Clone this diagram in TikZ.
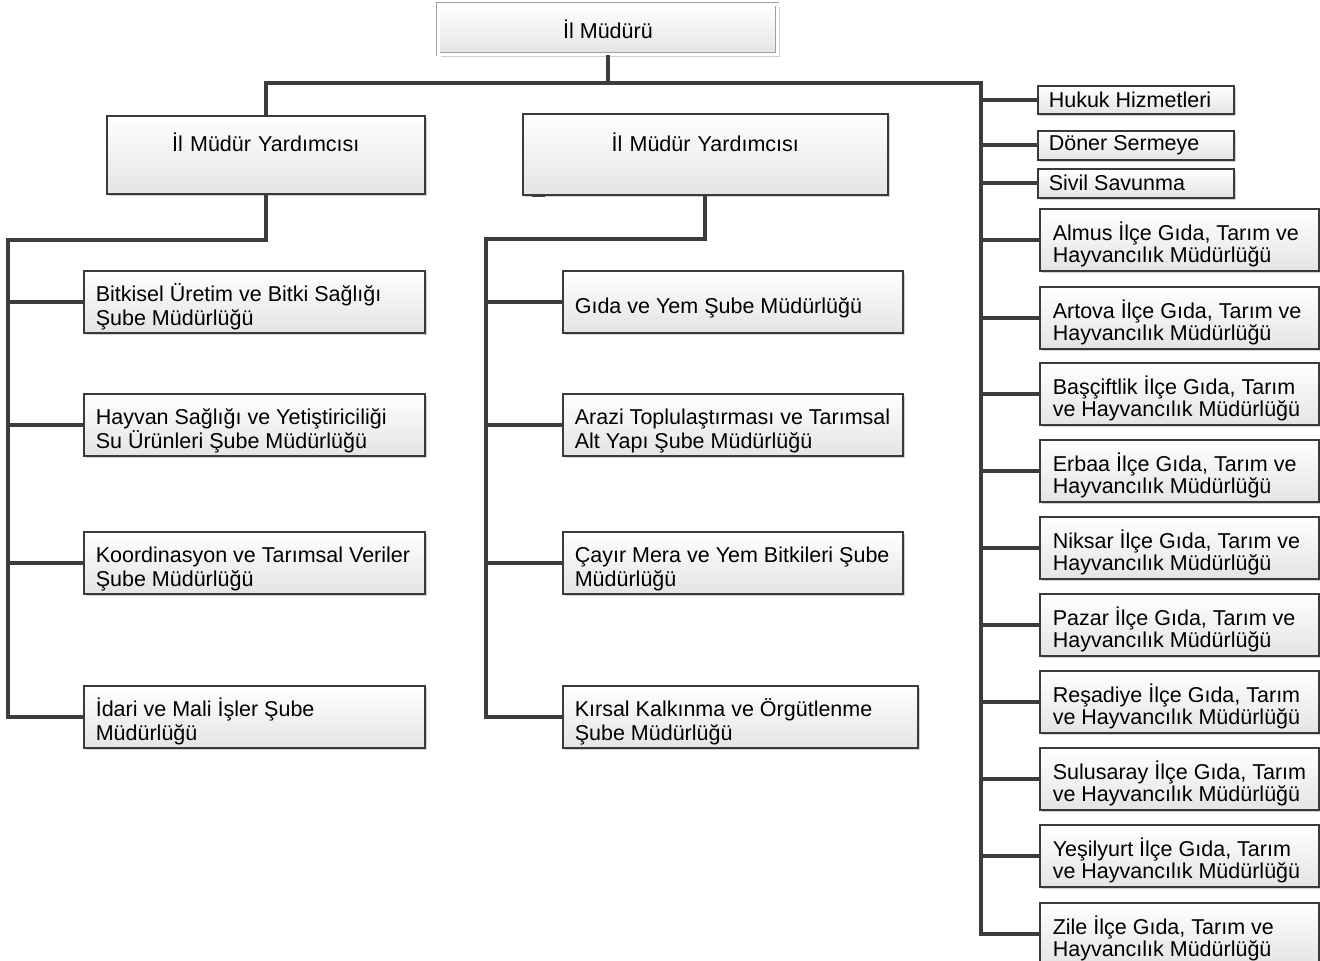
\documentclass[tikz,border=0pt]{standalone}
\usepackage{fontspec}
\setmainfont{Liberation Sans}
\usetikzlibrary{shadows}
\definecolor{lineC}{HTML}{3C3C3C}
\definecolor{boxLine}{HTML}{3A3A3A}
\definecolor{boxBot}{HTML}{E4E4E4}
\newcommand\boxfont{\fontsize{21.5}{24.5}\selectfont}
\newcommand\rboxfont{\fontsize{21.5}{22}\selectfont}
\newcommand\Fl[1]{\mbox{\rule{0pt}{28pt}#1}}
\newcommand\Ln[1]{\mbox{#1}}
\tikzset{
  orgbox/.style={draw=boxLine, line width=1.6pt, top color=white, bottom color=boxBot,
    drop shadow={shadow xshift=2.5pt, shadow yshift=-2.5pt, fill=black, opacity=0.18},
    anchor=north west, inner xsep=12pt, inner ysep=0pt, align=flush left, font=\boxfont},
  rbox/.style={orgbox, font=\rboxfont},
  topbox/.style={draw=gray!75, line width=0.9pt, double=white, double distance=2.2pt,
    top color=white, bottom color=boxBot,
    drop shadow={shadow xshift=2.5pt, shadow yshift=-2.5pt, fill=black, opacity=0.18},
    anchor=north west, inner sep=0pt, align=center, font=\boxfont},
  conn/.style={draw=lineC, line width=3.8pt, line join=miter},
}
\begin{document}
\begin{tikzpicture}[x=1pt,y=-1pt]
\useasboundingbox (0,0) rectangle (1320,961);

% top
\node[topbox, minimum width=339pt, minimum height=50pt] (mud) at (438,4) {İl Müdürü};

% deputies
\node[orgbox, align=center, minimum width=318pt, minimum height=78pt, text width=294pt] (y1) at (106,115) {İl Müdür Yardımcısı\\\mbox{}};
\node[orgbox, align=center, minimum width=365pt, minimum height=81pt, text width=341pt] (y2) at (522,113) {İl Müdür Yardımcısı\\\mbox{}};

% left column
\node[orgbox, minimum width=341pt, minimum height=62pt, text width=317pt] (l1) at (83,270) {\Fl{Bitkisel Üretim ve Bitki Sağlığı}\\\Ln{Şube Müdürlüğü}};
\node[orgbox, minimum width=341pt, minimum height=62pt, text width=317pt] (l2) at (83,393) {\Fl{Hayvan Sağlığı ve Yetiştiriciliği}\\\Ln{Su Ürünleri Şube Müdürlüğü}};
\node[orgbox, minimum width=341pt, minimum height=62pt, text width=317pt] (l3) at (83,531) {\Fl{Koordinasyon ve Tarımsal Veriler}\\\Ln{Şube Müdürlüğü}};
\node[orgbox, minimum width=341pt, minimum height=62pt, text width=317pt] (l4) at (83,685) {\Fl{İdari ve Mali İşler Şube}\\\Ln{Müdürlüğü}};

% middle column
\node[orgbox, minimum width=340pt, minimum height=62pt, text width=316pt] (m1) at (562,270) {\Fl{Gıda ve Yem Şube Müdürlüğü}};
\node[orgbox, minimum width=340pt, minimum height=62pt, text width=316pt] (m2) at (562,393) {\Fl{Arazi Toplulaştırması ve Tarımsal}\\\Ln{Alt Yapı Şube Müdürlüğü}};
\node[orgbox, minimum width=340pt, minimum height=62pt, text width=316pt] (m3) at (562,531) {\Fl{Çayır Mera ve Yem Bitkileri Şube}\\\Ln{Müdürlüğü}};
\node[orgbox, minimum width=355pt, minimum height=62pt, text width=331pt] (m4) at (562,685) {\Fl{Kırsal Kalkınma ve Örgütlenme}\\\Ln{Şube Müdürlüğü}};

% right column small
\node[rbox, inner xsep=11pt, minimum width=196pt, minimum height=28pt, text width=174pt] (r1) at (1037,85) {Hukuk Hizmetleri};
\node[rbox, inner xsep=11pt, minimum width=196pt, minimum height=29pt, text width=174pt] (r2) at (1037,130) {Döner Sermeye};
\node[rbox, inner xsep=11pt, minimum width=196pt, minimum height=29pt, text width=174pt] (r3) at (1037,168) {Sivil Savunma};

% right column districts
\node[rbox, inner xsep=13pt, minimum width=279pt, minimum height=62pt, text width=253pt] (d1) at (1039,208) {\Fl{Almus İlçe Gıda, Tarım ve}\\\Ln{Hayvancılık Müdürlüğü}};
\node[rbox, inner xsep=13pt, minimum width=279pt, minimum height=62pt, text width=253pt] (d2) at (1039,286) {\Fl{Artova İlçe Gıda, Tarım ve}\\\Ln{Hayvancılık Müdürlüğü}};
\node[rbox, inner xsep=13pt, minimum width=279pt, minimum height=62pt, text width=253pt] (d3) at (1039,362) {\Fl{Başçiftlik İlçe Gıda, Tarım}\\\Ln{ve Hayvancılık Müdürlüğü}};
\node[rbox, inner xsep=13pt, minimum width=279pt, minimum height=62pt, text width=253pt] (d4) at (1039,439) {\Fl{Erbaa İlçe Gıda, Tarım ve}\\\Ln{Hayvancılık Müdürlüğü}};
\node[rbox, inner xsep=13pt, minimum width=279pt, minimum height=62pt, text width=253pt] (d5) at (1039,516) {\Fl{Niksar İlçe Gıda, Tarım ve}\\\Ln{Hayvancılık Müdürlüğü}};
\node[rbox, inner xsep=13pt, minimum width=279pt, minimum height=62pt, text width=253pt] (d6) at (1039,593) {\Fl{Pazar İlçe Gıda, Tarım ve}\\\Ln{Hayvancılık Müdürlüğü}};
\node[rbox, inner xsep=13pt, minimum width=279pt, minimum height=62pt, text width=253pt] (d7) at (1039,670) {\Fl{Reşadiye İlçe Gıda, Tarım}\\\Ln{ve Hayvancılık Müdürlüğü}};
\node[rbox, inner xsep=13pt, minimum width=279pt, minimum height=62pt, text width=253pt] (d8) at (1039,747) {\Fl{Sulusaray İlçe Gıda, Tarım}\\\Ln{ve Hayvancılık Müdürlüğü}};
\node[rbox, inner xsep=13pt, minimum width=279pt, minimum height=62pt, text width=253pt] (d9) at (1039,824) {\Fl{Yeşilyurt İlçe Gıda, Tarım}\\\Ln{ve Hayvancılık Müdürlüğü}};
\node[rbox, inner xsep=13pt, minimum width=279pt, minimum height=62pt, text width=253pt] (d10) at (1039,902) {\Fl{Zile İlçe Gıda, Tarım ve}\\\Ln{Hayvancılık Müdürlüğü}};

% bus coordinates
\coordinate (rtop) at (981,83);
\coordinate (ltop) at (8,240);
\coordinate (mtop) at (486,239);

% top connectors
\draw[conn] (mud.south) |- (rtop) -- (rtop |- d10.west) -- (d10.west);
\draw[conn] (mud.south |- rtop) -| (y1.north);
\foreach \n in {r1,r2,r3,d1,d2,d3,d4,d5,d6,d7,d8,d9}
  \draw[conn] (rtop |- \n.west) -- (\n.west);

% left branch
\draw[conn] (y1.south) |- (ltop) -- (ltop |- l4.west) -- (l4.west);
\foreach \n in {l1,l2,l3}
  \draw[conn] (ltop |- \n.west) -- (\n.west);

% middle branch
\draw[conn] (y2.south) |- (mtop) -- (mtop |- m4.west) -- (m4.west);
\foreach \n in {m1,m2,m3}
  \draw[conn] (mtop |- \n.west) -- (\n.west);

% small mark under second deputy box
\draw[draw=lineC, line width=2.6pt] ([xshift=10pt]y2.south west) -- ([xshift=23pt]y2.south west);
\end{tikzpicture}
\end{document}
